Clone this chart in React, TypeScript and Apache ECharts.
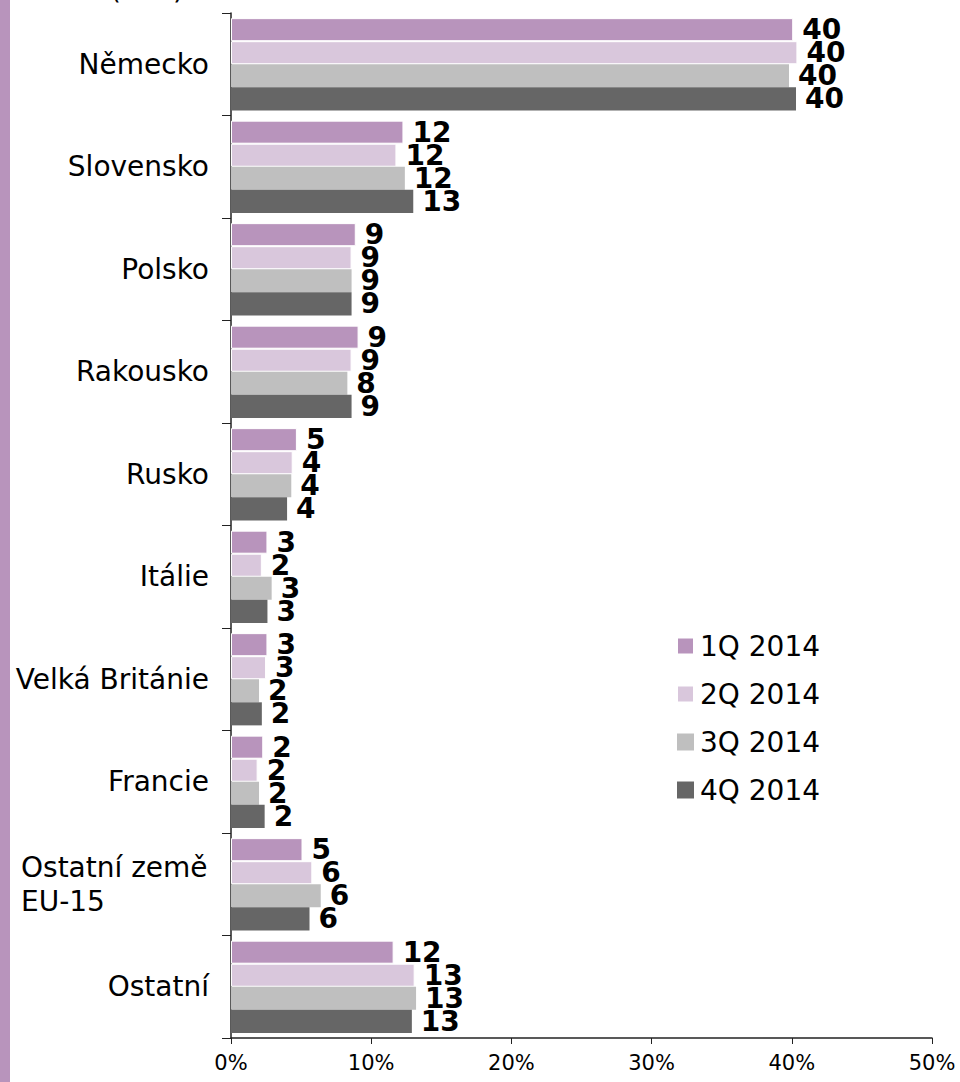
import React, { useEffect, useRef } from "react";
import * as echarts from "echarts";

const categories = [
  "Německo",
  "Slovensko",
  "Polsko",
  "Rakousko",
  "Rusko",
  "Itálie",
  "Velká Británie",
  "Francie",
  "Ostatní země EU-15",
  "Ostatní",
];
const seriesNames = ["1Q 2014", "2Q 2014", "3Q 2014", "4Q 2014"];
const q1 = [40.1, 12.3, 8.9, 9.1, 4.7, 2.6, 2.6, 2.3, 5.1, 11.6];
const q2 = [40.4, 11.8, 8.6, 8.6, 4.4, 2.2, 2.5, 1.9, 5.8, 13.1];
const q3 = [39.8, 12.4, 8.6, 8.3, 4.3, 2.9, 2.0, 2.0, 6.4, 13.2];
const q4 = [40.3, 13.0, 8.6, 8.6, 4.0, 2.6, 2.2, 2.4, 5.6, 12.9];
const colors = ["#b894bc", "#d9c7dc", "#bfbfbf", "#666666"];
const xTicks = [0, 10, 20, 30, 40, 50];

export default function App() {
  const ref = useRef<HTMLDivElement>(null);
  useEffect(() => {
    if (!ref.current) return;
    const chart = echarts.init(ref.current, null, { renderer: "svg" });
    const data = [q1, q2, q3, q4];
    const font = "'DejaVu Sans', Verdana, sans-serif";
    chart.setOption({
      animation: false,
      textStyle: { fontFamily: font },
      grid: { left: 231, right: 28, top: 13, bottom: 44 },
      legend: {
        orient: "vertical",
        left: 671,
        top: 627,
        itemWidth: 17,
        itemHeight: 17,
        itemGap: 20,
        icon: "rect",
        textStyle: { fontSize: 28, color: "#000", fontFamily: font, padding: [0, 0, 0, 1] },
        data: seriesNames,
      },
      graphic: [
        {
          type: "rect",
          left: 0,
          top: 0,
          shape: { width: 10, height: 1082 },
          style: { fill: "#b894bc" },
        },
        {
          type: "text",
          left: 110,
          top: -25,
          style: { text: "(v %)", font: `28px ${font}`, fill: "#000" },
        },
      ],
      xAxis: {
        type: "value",
        min: 0,
        max: 50,
        interval: 10,
        axisLine: { show: true, lineStyle: { color: "#222", width: 1.5 } },
        axisTick: { show: true, length: 6, lineStyle: { color: "#222" } },
        splitLine: { show: false },
        axisLabel: {
          fontSize: 21,
          color: "#000",
          margin: 14,
          fontFamily: font,
          formatter: (v: number) => (xTicks.includes(v) ? v + "%" : ""),
        },
      },
      yAxis: {
        type: "category",
        inverse: true,
        data: categories,
        axisLine: { show: true, lineStyle: { color: "#222", width: 1.5 } },
        axisTick: { show: true, length: 9, inside: false, lineStyle: { color: "#222" } },
        axisLabel: {
          fontSize: 28,
          color: "#000",
          margin: 22,
          fontFamily: font,
          formatter: (v: string) =>
            v === "Ostatní země EU-15" ? "{l|Ostatní země}\n{l|EU-15}" : v,
          rich: {
            l: { width: 188, align: "left", fontSize: 28, lineHeight: 34, fontFamily: font, color: "#000" },
          },
        },
      },
      series: data.map((d, i) => ({
        name: seriesNames[i],
        type: "bar",
        data: d,
        barGap: "0%",
        barCategoryGap: "10%",
        itemStyle: {
          color: colors[i],
          borderColor: i < 2 ? "#ffffff" : colors[i],
          borderWidth: i < 2 ? 1 : 0,
        },
        label: {
          show: true,
          position: "right",
          distance: 9,
          fontSize: 28,
          fontWeight: "bold",
          color: "#000",
          fontFamily: font,
          formatter: (p: any) => String(Math.round(p.value)),
        },
      })),
    });
    return () => chart.dispose();
  }, []);
  return (
    <div style={{ position: "absolute", left: 0, top: 0, width: 960, height: 1082, background: "#fff" }}>
      <div ref={ref} style={{ width: 960, height: 1082 }} />
    </div>
  );
}
